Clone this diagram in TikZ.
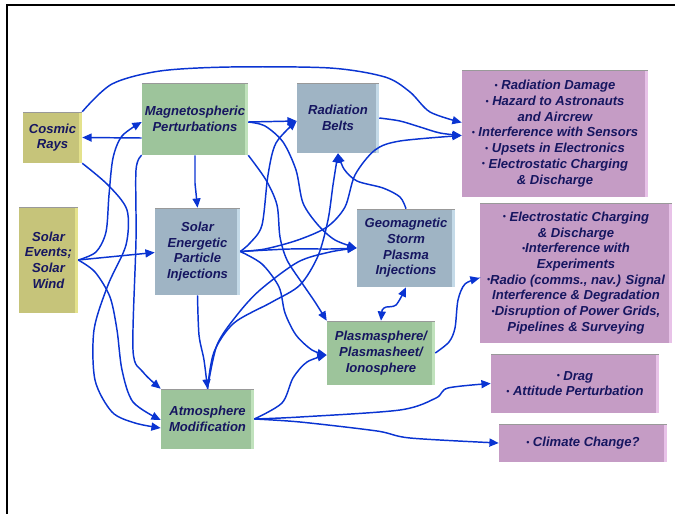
\documentclass[tikz,border=0pt]{standalone}
\usepackage{fontspec}
\setmainfont{Liberation Sans}
\usetikzlibrary{shapes,arrows.meta,calc}

\definecolor{rayface}{RGB}{198,196,122}
\definecolor{rayside}{RGB}{228,226,140}
\definecolor{zoneface}{RGB}{157,196,155}
\definecolor{zoneside}{RGB}{192,226,188}
\definecolor{beltface}{RGB}{159,180,196}
\definecolor{beltside}{RGB}{196,218,232}
\definecolor{effectface}{RGB}{197,156,197}
\definecolor{effectside}{RGB}{232,194,232}
\definecolor{labelnavy}{RGB}{22,22,96}
\definecolor{linkblue}{RGB}{10,52,210}

\newcommand{\bul}{\raisebox{0.2ex}{\fontsize{6.5}{6.5}\selectfont\textbullet}}

\tikzstyle{box} = [rectangle, align=center, inner sep=1pt, text=labelnavy,
    font=\fontsize{9.8}{11.8}\selectfont\bfseries\itshape]
\tikzstyle{link} = [draw=linkblue, line width=1.1pt, ->]
\tikzset{
  face/.style 2 args={box, fill=#1, path picture={
      \fill[#2] ([xshift=-2.5pt]path picture bounding box.north east) rectangle (path picture bounding box.south east);
      \draw[black!40, line width=0.9pt] (path picture bounding box.north west) -- (path picture bounding box.north east);}},
  sz/.style 2 args={minimum width=#1*0.75pt, minimum height=#2*0.75pt},
}

\begin{document}
\begin{tikzpicture}[x=0.75pt, y=-0.75pt, >={Triangle[length=7pt,width=6pt]}]
	\useasboundingbox (0,0) rectangle (675,514);
	\draw[line width=1.5pt] (675,5) -- (7,5) -- (7,514);

	% causes
	\node [face={rayface}{rayside}, sz={59}{51}] (cosmic) at (52.5,137.5) {Cosmic\\Rays};
	\node [face={rayface}{rayside}, sz={59}{106}] (solar) at (48.5,260) {Solar\\Events;\\Solar\\Wind};
	\node [face={zoneface}{zoneside}, sz={106}{72}] (magneto) at (195,119) {Magnetospheric\\Perturbations};
	\node [face={beltface}{beltside}, sz={82}{70}] (belts) at (338,118) {Radiation\\Belts};
	\node [face={beltface}{beltside}, sz={85}{87}] (sep) at (197.5,251.5) {Solar\\Energetic\\Particle\\Injections};
	\node [face={beltface}{beltside}, sz={98}{78}] (geomag) at (406,248) {Geomagnetic\\Storm\\Plasma\\Injections};
	\node [face={zoneface}{zoneside}, sz={108}{64}] (plasma) at (381,353) {Plasmasphere/\\Plasmasheet/\\Ionosphere};
	\node [face={zoneface}{zoneside}, sz={93}{60}] (atmos) at (207.5,419) {Atmosphere\\Modification};

	% effects
	\node [face={effectface}{effectside}, sz={186}{127}] (eff1) at (555,133.5) {\bul\ Radiation Damage\\\bul\ Hazard to Astronauts\\and Aircrew\\\bul\ Interference with Sensors\\\bul\ Upsets in Electronics\\\bul\ Electrostatic Charging\\\& Discharge};
	\node [face={effectface}{effectside}, sz={192}{140}] (eff2) at (576,273) {\bul\ Electrostatic Charging\\\& Discharge\\\bul Interference with\\Experiments\\\bul Radio (comms., nav.) Signal\\Interference \& Degradation\\\bul Disruption of Power Grids,\\Pipelines \& Surveying};
	\node [face={effectface}{effectside}, sz={168}{59}] (eff3) at (575,383.5) {\bul\ Drag\\\bul\ Attitude Perturbation};
	\node [face={effectface}{effectside}, sz={168}{38}] (eff4) at (583,443) {\bul\ Climate Change?};

	\draw[link] plot[smooth] coordinates {(cosmic.north east) (112,84) (160,71) (230,67) (330,68) (385,77) (410,92) (430,112) ($(eff1.west)+(0,-11)$)};
	\draw[link] ($(magneto.west)+(0,19)$) -- (cosmic.east);
	\draw[link] plot[smooth] coordinates {(cosmic.south east) (108,185) (127,210) (126,245) (108,285) (94,330) (95,380) (112,412) (135,423) ($(atmos.west)+(0,9)$)};
	\draw[link] (solar.east) -- ($(sep.west)+(0,1)$);
	\draw[link] plot[smooth] coordinates {(solar.east) (96,252) (106,232) (109,195) (113,158) (122,136) ($(magneto.west)+(0,3)$)};
	\draw[link] plot[smooth] coordinates {(solar.east) (95,272) (110,297) (117,330) (122,370) (133,402) ($(atmos.west)+(0,1)$)};
	\draw[link] plot[smooth] coordinates {(magneto.south west) (136,170) (136,240) (133,350) (143,372) (atmos.north west)};
	\draw[link] (magneto.south) -- ++(0,28) -- (sep.north);
	\draw[link] ($(magneto.east)+(0,3)$) -- ($(belts.west)+(0,3)$);
	\draw[link] plot[smooth] coordinates {($(magneto.east)+(0,3)$) (265,126) (283,142) (296,170) (303,203) (318,225) (335,240) (geomag.west)};
	\draw[link] plot[smooth] coordinates {(magneto.south east) (266,180) (277,205) (280,237) (287,260) (302,283) (315,302) (plasma.north west)};
	\draw[link] plot[smooth] coordinates {(sep.east) (250,243) (262,225) (268,175) (276,143) ($(belts.west)+(0,3)$)};
	\draw[link] plot[smooth] coordinates {(sep.east) (290,249) (330,249) (geomag.west)};
	\draw[link] plot[smooth] coordinates {(sep.east) (265,249) (298,240) (327,227) (345,207) (355,175) (375,150) (400,141) ($(eff1.west)+(0,2)$)};
	\draw[link] plot[smooth] coordinates {(sep.east) (262,264) (279,287) (285,313) (296,335) (312,350) ($(plasma.west)+(0,2)$)};
	\draw[link] plot[smooth] coordinates {(sep.south) (199,335) (204,360) (atmos.north)};
	\draw[link] plot[smooth] coordinates {(atmos.north) (214,352) (234,323) (272,302) (300,285) (318,256) (328,220) (333,185) (belts.south)};
	\draw[link] plot[smooth] coordinates {(atmos.north) (217,345) (237,315) (260,290) (298,262) (330,252) (geomag.west)};
	\draw[link] plot[smooth] coordinates {(geomag.north) (400,197) (383,188) (357,181) (344,169) (belts.south)};
	\draw[link] plot[smooth] coordinates {(belts.east) (400,121) (420,127) (440,133) ($(eff1.west)+(0,2)$)};
	\draw[link, <->] plot[smooth] coordinates {(plasma.north) (384,308) (396,305) (geomag.south)};
	\draw[link] plot[smooth] coordinates {(plasma.east) (449,342) (455,328) (458,300) (465,284) ($(eff2.west)+(0,5)$)};
	\draw[link] plot[smooth] coordinates {(atmos.east) (282,403) (293,378) (307,362) ($(plasma.west)+(0,2)$)};
	\draw[link] plot[smooth] coordinates {(atmos.east) (300,417) (400,410) (436,398) (448,388) (eff3.west)};
	\draw[link] plot[smooth] coordinates {(atmos.east) (300,422) (377,431) (410,438) (eff4.west)};
\end{tikzpicture}
\end{document}
